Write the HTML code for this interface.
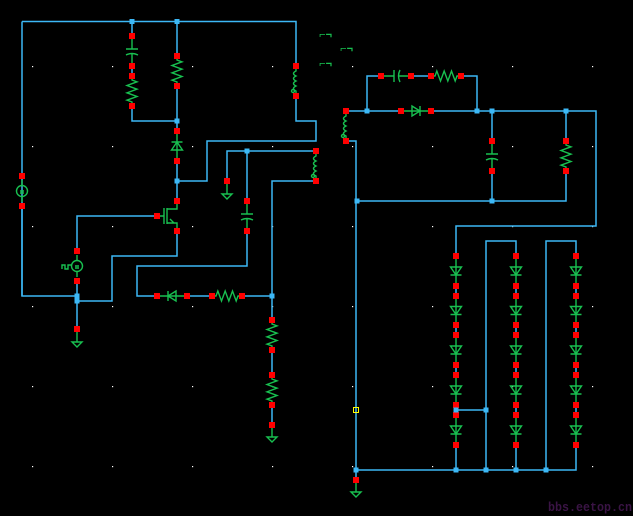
<!DOCTYPE html>
<html><head><meta charset="utf-8"><style>
html,body{margin:0;padding:0;background:#000;width:633px;height:516px;overflow:hidden}
svg{display:block}
</style></head><body>
<svg id="s" width="633" height="516" viewBox="0 0 633 516" xmlns="http://www.w3.org/2000/svg">
<rect width="633" height="516" fill="#000"/>
<g id="dots" fill="#fff"></g>
<g id="w" stroke="#3cb8f6" stroke-width="1.5" fill="none"></g>
<g id="c" stroke="#18c050" stroke-width="1.4" fill="none"></g>
<g id="p"></g>
<text x="319" y="38" fill="#18c050" font-family="Liberation Mono, monospace" font-weight="bold" font-size="11">⌐¬</text>
<text x="340" y="52" fill="#18c050" font-family="Liberation Mono, monospace" font-weight="bold" font-size="11">⌐¬</text>
<text x="319" y="67" fill="#18c050" font-family="Liberation Mono, monospace" font-weight="bold" font-size="11">⌐¬</text>
<rect x="353.5" y="407.5" width="5" height="5" fill="none" stroke="#ffff00" stroke-width="1"/>
<text x="548" y="511" fill="#3a1445" font-family="Liberation Mono, monospace" font-weight="bold" font-size="13" textLength="84" lengthAdjust="spacingAndGlyphs">bbs.eetop.cn</text>
</svg>
<script>
const NS="http://www.w3.org/2000/svg";
const W=document.getElementById('w'),C=document.getElementById('c'),P=document.getElementById('p'),D=document.getElementById('dots');
function el(g,t,a){const e=document.createElementNS(NS,t);for(const k in a)e.setAttribute(k,a[k]);g.appendChild(e);return e;}
function wire(pts){el(W,'polyline',{points:pts});}
function gp(d){el(C,'path',{d:d});}
function red(x,y){el(P,'rect',{x:x-3,y:y-3,width:6,height:6,fill:'#ff0000'});}
function node(x,y){el(P,'rect',{x:x-2.5,y:y-2.5,width:5,height:5,fill:'#3cb8f6'});}
for(let x=32;x<633;x+=80)for(let y=66;y<516;y+=80)el(D,'rect',{x:x,y:y,width:1.2,height:1.2});
function resV(x,y1,y2){let d=`M${x} ${y1}V${y1+4}`;const n=6,h=(y2-y1-8)/n;for(let i=0;i<n;i++){d+=`L${x+(i%2?-5:5)} ${y1+4+h*(i+0.5)}`;}d+=`L${x} ${y2-4}V${y2}`;gp(d);}
function resH(y,x1,x2){let d=`M${x1} ${y}H${x1+4}`;const n=6,h=(x2-x1-8)/n;for(let i=0;i<n;i++){d+=`L${x1+4+h*(i+0.5)} ${y+(i%2?5:-5)}`;}d+=`L${x2-4} ${y}H${x2}`;gp(d);}
function capV(x,y1,y2){const m=(y1+y2)/2;gp(`M${x} ${y1}V${m-2}M${x-6} ${m-2}H${x+6}M${x-6} ${m+4}Q${x} ${m+1} ${x+6} ${m+4}M${x} ${m+2}V${y2}`);}
function capH(y,x1,x2){const m=(x1+x2)/2;gp(`M${x1} ${y}H${m-2}M${m-2} ${y-6}V${y+6}M${m+4} ${y-6}Q${m+1} ${y} ${m+4} ${y+6}M${m+2} ${y}H${x2}`);}
function diodeV(x,y1,y2,up){const m=(y1+y2)/2;gp(`M${x} ${y1}V${y2}`);if(up){gp(`M${x-5.5} ${m+4}H${x+5.5}L${x} ${m-4}Z M${x-5.5} ${m-4}H${x+5.5}`);}else{gp(`M${x-5.5} ${m-4}H${x+5.5}L${x} ${m+4}Z M${x-5.5} ${m+4}H${x+5.5}`);}}
function diodeH(y,x1,x2,right){const m=(x1+x2)/2;gp(`M${x1} ${y}H${x2}`);if(right)gp(`M${m-4} ${y-5}V${y+5}L${m+4} ${y}Z M${m+4} ${y-5}V${y+5}`);else gp(`M${m+4} ${y-5}V${y+5}L${m-4} ${y}Z M${m-4} ${y-5}V${y+5}`);}
function indV(x,y1,y2){let d=`M${x} ${y1}V${y1+5}`;const n=4,h=(y2-y1-10)/n;for(let i=0;i<n;i++){d+=`Q${x-5} ${y1+5+h*(i+0.5)} ${x} ${y1+5+h*(i+1)}`;}d+=`V${y2}`;gp(d);el(C,'circle',{cx:x-3,cy:y2-5,r:1.5});}
function gnd(x,y){gp(`M${x} ${y-12}V${y}M${x-5} ${y}H${x+5}L${x} ${y+5}Z`);}
function src(x,y){el(C,'circle',{cx:x,cy:y,r:5.5});gp(`M${x} ${y-11}V${y-5.5}M${x} ${y+5.5}V${y+11}M${x-2} ${y}H${x+2}M${x-2} ${y+2}H${x+2}`);}
wire("22,21.5 296,21.5 296,66");
wire("22,21.5 22,296 77,296");
wire("296,96 296,121 316,121 316,141 207,141 207,181 177,181");
wire("132,21.5 132,36");wire("132,106 132,121 177,121");
wire("177,21.5 177,56");wire("177,86 177,131");wire("177,161 177,201");
wire("177,231 177,256 112,256 112,301 77,301");
wire("22,206 22,296");
wire("157,216 77,216 77,251");wire("77,281 77,329");
wire("227,181 227,151 316,151");wire("247,151 247,201");
wire("247,231 247,266 137,266 137,296 157,296");
wire("187,296 212,296");wire("242,296 272,296");
wire("316,181 272,181 272,320");wire("272,350 272,375");wire("272,405 272,425");
wire("132,66 132,76");
wire("346,111 401,111");wire("431,111 596,111 596,226 456,226 456,256");
wire("367,111 367,76 381,76");wire("411,76 431,76");wire("461,76 477,76 477,111");
wire("346,141 356,141 356,480");
wire("356,201 566,201 566,171");wire("492,111 492,141");wire("492,171 492,201");wire("566,111 566,141");
wire("486,470 486,241 516,241 516,256");wire("546,470 546,241 576,241 576,256");
wire("356,470 576,470 576,445");wire("456,445 456,470");wire("516,445 516,470");
wire("456,410 486,410");
const ys=[256,286,296,325,335,365,375,405,415,445];
for(const x of [456,516,576]){for(let i=0;i<10;i+=2){diodeV(x,ys[i],ys[i+1],false);red(x,ys[i]);red(x,ys[i+1]);}
 for(let i=1;i<9;i+=2)wire(`${x},${ys[i]} ${x},${ys[i+1]}`);}
capV(132,36,66);red(132,36);red(132,66);
resV(132,76,106);red(132,76);red(132,106);
resV(177,56,86);red(177,56);red(177,86);
diodeV(177,131,161,true);red(177,131);red(177,161);
indV(296,66,96);red(296,66);red(296,96);
indV(316,151,181);red(316,151);red(316,181);
src(22,191);red(22,176);red(22,206);
src(77,266);red(77,251);red(77,281);gp("M62 269V265H65V269H68V265H71");
gp("M157 216H164M164 208V224M167 208V224M167 209H177V201M167 223H177V231M170 219L174 223L170 223");
red(177,201);red(177,231);red(157,216);
gp("M227 181V194M222 194H232L227 199Z");red(227,181);
capV(247,201,231);red(247,201);red(247,231);
diodeH(296,157,187,false);red(157,296);red(187,296);
resH(296,212,242);red(212,296);red(242,296);
resV(272,320,350);red(272,320);red(272,350);
resV(272,375,405);red(272,375);red(272,405);
gnd(272,437);red(272,425);
gnd(77,342);red(77,329);
indV(346,111,141);red(346,111);red(346,141);
capH(76,381,411);red(381,76);red(411,76);
resH(76,431,461);red(431,76);red(461,76);
diodeH(111,401,431,true);red(401,111);red(431,111);
capV(492,141,171);red(492,141);red(492,171);
resV(566,141,171);red(566,141);red(566,171);
gnd(356,492);red(356,480);
[[132,21.5],[177,21.5],[177,121],[177,181],[77,296],[77,301],[247,151],[272,296],
 [367,111],[477,111],[492,111],[566,111],[357,201],[492,201],
 [356,470],[456,470],[486,470],[516,470],[546,470],[456,410],[486,410]].forEach(p=>node(p[0],p[1]));
</script>
</body></html>
